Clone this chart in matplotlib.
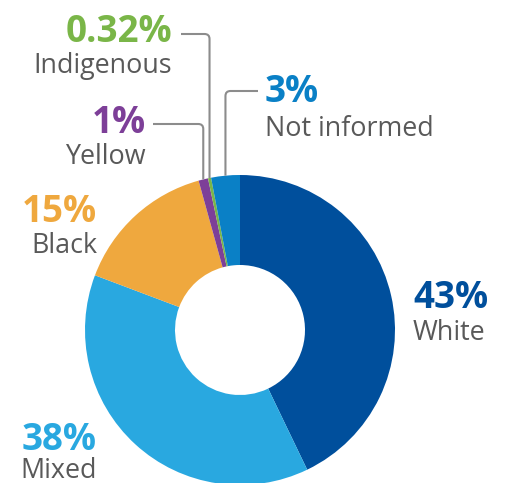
import matplotlib
matplotlib.use("Agg")
import matplotlib.pyplot as plt
import numpy as np
from matplotlib.path import Path
from matplotlib.patches import PathPatch

categories = ["White", "Mixed", "Black", "Yellow", "Indigenous", "Not informed"]
values = [43, 38, 15, 1, 0.32, 3]
pct_labels = ["43%", "38%", "15%", "1%", "0.32%", "3%"]
colors = ["#004f9c", "#29a8e0", "#efa83e", "#7d3f98", "#7ab648", "#0a80c6"]

W, H = 513, 483
fig = plt.figure(figsize=(W / 100, H / 100), dpi=100)
ax = fig.add_axes([0, 0, 1, 1])
ax.set_xlim(0, W)
ax.set_ylim(0, H)
ax.set_aspect("equal")
ax.axis("off")

cx, cy, R = 240, 153, 155
hole = 65
wedges, _ = ax.pie(values, colors=colors, startangle=90, counterclock=False,
                   radius=R, center=(cx, cy), frame=True,
                   wedgeprops=dict(width=R - hole, linewidth=0))
ax.set_xlim(0, W)
ax.set_ylim(0, H)
ax.axis("off")

gray_text = "#595959"
line_col = "#8c8c8c"
font = "Open Sans"

# label layout: (x, pct baseline y, name baseline y, ha)
layout = {
    "White": (413, 175, 143, "left"),
    "Mixed": (97, 33, 5, "right"),
    "Black": (97, 261, 230, "right"),
    "Yellow": (146, 350, 319, "right"),
    "Indigenous": (172, 441, 410, "right"),
    "Not informed": (265, 381, 347, "left"),
}
for cat, pct, col in zip(categories, pct_labels, colors):
    x, yp, yn, ha = layout[cat]
    ax.text(x, yp, pct, color=col, fontsize=26.5, fontweight="bold", family=font,
            ha=ha, va="baseline")
    ax.text(x, yn, cat, color=gray_text, fontsize=19.4, family=font,
            ha=ha, va="baseline")

# leader lines for small slices: (horizontal start x, horizontal y)
leaders = {
    "Yellow": (153, 359),
    "Indigenous": (181, 449),
    "Not informed": (258, 392),
}
for cat, (hx, hy) in leaders.items():
    w = wedges[categories.index(cat)]
    mid = np.deg2rad((w.theta1 + w.theta2) / 2)
    vx = cx + R * np.cos(mid)
    vy = cy + R * np.sin(mid)
    r = 5
    sgn = 1 if vx > hx else -1
    verts = [(hx, hy), (vx - sgn * r, hy), (vx, hy), (vx, hy - r), (vx, vy)]
    codes = [Path.MOVETO, Path.LINETO, Path.CURVE3, Path.CURVE3, Path.LINETO]
    ax.add_patch(PathPatch(Path(verts, codes), facecolor="none",
                           edgecolor=line_col, linewidth=1.5))

fig.savefig("out.png", dpi=100, facecolor="white")
